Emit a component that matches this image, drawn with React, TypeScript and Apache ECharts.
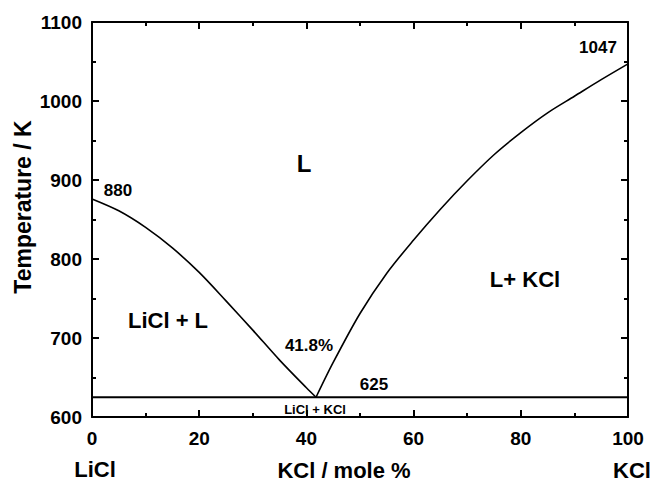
import React, { useEffect, useRef } from "react";
import * as echarts from "echarts";

const liquidusLiCl: [number, number][] = [
  [0, 876], [5, 861], [10, 840], [15, 814], [20, 783], [25, 747], [30, 710], [35, 672], [40, 637], [41.8, 625],
];
const liquidusKCl: [number, number][] = [
  [41.8, 625], [45, 669], [50, 731], [55, 782], [60, 824], [65, 863], [70, 899], [75, 932], [80, 960], [85, 985], [90, 1006], [95, 1027], [100, 1047],
];
const eutecticLine: [number, number][] = [
  [0, 625], [100, 625],
];
const xRange = [0, 100];
const yRange = [600, 1100];

const FONT = '"Liberation Sans", Arial, sans-serif';

function txt(text: string, x: number, y: number, size: number, extra: any = {}) {
  return {
    type: "text",
    x,
    y,
    ...extra,
    style: {
      text,
      font: `bold ${size}px ${FONT}`,
      fill: "#000",
      align: "center",
      verticalAlign: "middle",
    },
  };
}

export default function App() {
  const ref = useRef<HTMLDivElement>(null);
  useEffect(() => {
    if (!ref.current) return;
    const chart = echarts.init(ref.current, undefined, { renderer: "svg" });
    const axisLine = () => ({ show: true, onZero: false, lineStyle: { color: "#000", width: 2 } });
    const tick = () => ({ show: true, inside: true, length: 7, lineStyle: { color: "#000", width: 2 } });
    const minor = () => ({ show: true, splitNumber: 2, length: 4, lineStyle: { color: "#000", width: 2 } });
    const label = { color: "#000", fontSize: 19, fontWeight: "bold", fontFamily: FONT };
    chart.setOption({
      animation: false,
      grid: { left: 92, top: 22, right: 28, bottom: 64, containLabel: false, outerBoundsMode: "none" },
      xAxis: [
        {
          type: "value", min: xRange[0], max: xRange[1], interval: 20, position: "bottom",
          axisLine: axisLine(), axisTick: tick(), minorTick: minor(), splitLine: { show: false },
          axisLabel: { ...label, margin: 12 },
        },
        {
          type: "value", min: xRange[0], max: xRange[1], interval: 20, position: "top",
          axisLine: axisLine(), axisTick: tick(), minorTick: minor(), splitLine: { show: false },
          axisLabel: { show: false },
        },
      ],
      yAxis: [
        {
          type: "value", min: yRange[0], max: yRange[1], interval: 100, position: "left",
          axisLine: axisLine(), axisTick: tick(), minorTick: minor(), splitLine: { show: false },
          axisLabel: { ...label, margin: 10, formatter: (v: number) => String(v) },
        },
        {
          type: "value", min: yRange[0], max: yRange[1], interval: 100, position: "right",
          axisLine: axisLine(), axisTick: tick(), minorTick: minor(), splitLine: { show: false },
          axisLabel: { show: false },
        },
      ],
      series: [
        {
          type: "line", data: liquidusLiCl, smooth: 0.3, showSymbol: false,
          lineStyle: { color: "#000", width: 1.6 }, xAxisIndex: 0, yAxisIndex: 0,
        },
        {
          type: "line", data: liquidusKCl, smooth: 0.3, showSymbol: false,
          lineStyle: { color: "#000", width: 1.6 }, xAxisIndex: 0, yAxisIndex: 0,
        },
        {
          type: "line", data: eutecticLine, showSymbol: false,
          lineStyle: { color: "#000", width: 2 }, xAxisIndex: 0, yAxisIndex: 0,
        },
      ],
      graphic: [
        txt("Temperature / K", 23, 207, 23, { rotation: Math.PI / 2 }),
        txt("LiCl", 95, 469, 22),
        txt("KCl / mole %", 344, 470, 22),
        txt("KCl", 632, 470, 22),
        txt("880", 118, 190, 17),
        txt("1047", 598, 47, 17),
        txt("L", 304, 163, 24),
        txt("LiCl + L", 168, 320, 22),
        txt("L+ KCl", 525, 279, 22),
        txt("41.8%", 309, 345, 17),
        txt("625", 374, 384, 17),
        txt("LiCl + KCl", 315, 409, 13),
      ],
    });
    return () => chart.dispose();
  }, []);
  return (
    <div
      ref={ref}
      style={{ position: "absolute", left: 0, top: 0, width: 656, height: 481 }}
    />
  );
}
